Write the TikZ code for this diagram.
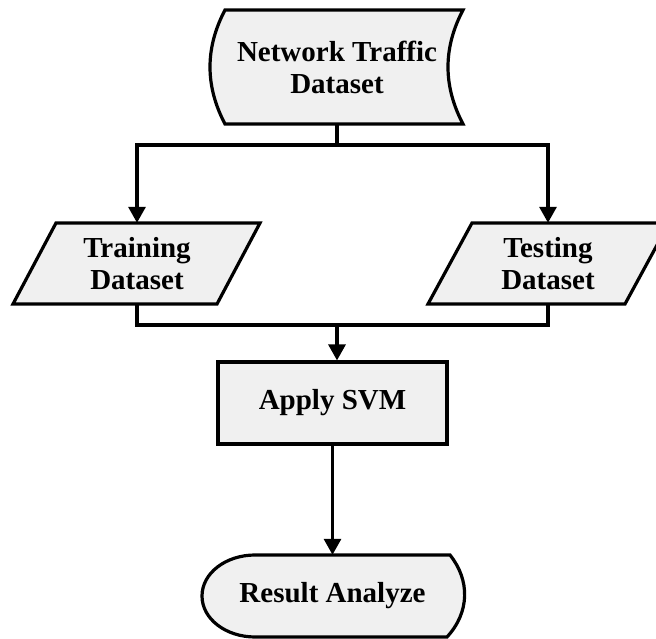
\documentclass[tikz,border=0pt]{standalone}
\usepackage{fontspec}
\setmainfont{Liberation Serif}
\usetikzlibrary{arrows.meta}
\definecolor{boxfill}{RGB}{240,240,240}
\begin{document}
\begin{tikzpicture}[x=1pt,y=-1pt,
  shapeline/.style={draw=black,line width=3.2pt,fill=boxfill,line join=miter},
  lbl/.style={inner sep=0pt,align=center,font=\fontsize{29}{32}\selectfont\bfseries},
  conn/.style={draw=black,line width=3.2pt},
  arr/.style={conn,-{Triangle[width=17pt,length=16pt]}}]
\useasboundingbox (0,0) rectangle (656,639);
\clip (0,0) rectangle (656,639);
% shapes
\draw[shapeline] (225,10) -- (463,10) .. controls (443,48) and (443,86) .. (463,124)
  -- (225,124) .. controls (205,86) and (205,48) .. (225,10) -- cycle;
\draw[shapeline] (56,223) -- (260,223) -- (217,304) -- (13,304) -- cycle;
\draw[shapeline] (472,223) -- (669,223) -- (625,304) -- (428,304) -- cycle;
\draw[shapeline] (255,555) -- (450,555) .. controls (470,580) and (470,612) .. (447,637)
  -- (255,637) .. controls (226,637) and (202,619) .. (202,596)
  .. controls (202,573) and (226,555) .. (255,555) -- cycle;
% nodes
\node[lbl,minimum width=238pt,minimum height=114pt] (net) at (337,67) {Network Traffic\\Dataset};
\node[lbl,minimum width=160pt,minimum height=81pt] (train) at (137,263.5) {Training\\Dataset};
\node[lbl,minimum width=160pt,minimum height=81pt] (test) at (548,263.5) {Testing\\Dataset};
\node[lbl,shapeline,minimum width=229pt,minimum height=82pt] (svm) at (332.5,403) {Apply SVM};
\node[lbl,minimum width=200pt,minimum height=82pt] (result) at (332.5,596) {Result Analyze};
\coordinate (split) at (337,145);
\coordinate (merge) at (337,325);
% connectors
\draw[conn] (net.south) -- (split);
\draw[arr] (split) -| (train.north);
\draw[arr] (split) -| (test.north);
\draw[conn] (train.south) -- (train.south |- merge) -- (test.south |- merge) -- (test.south);
\draw[arr] (merge) -- (merge |- svm.north);
\draw[arr] (svm.south) -- (result.north);
\end{tikzpicture}
\end{document}
